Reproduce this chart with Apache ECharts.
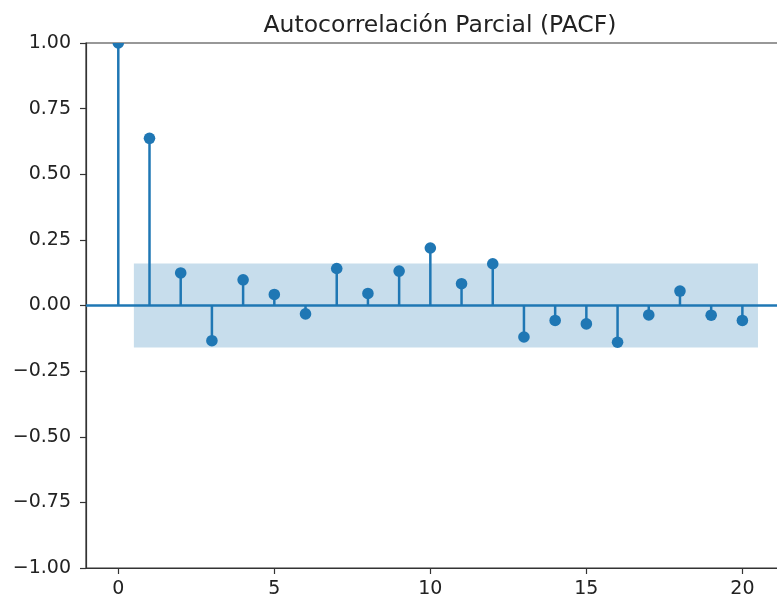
<!DOCTYPE html>
<html><head><meta charset="utf-8">
<script src="https://cdn.jsdelivr.net/npm/echarts@6/dist/echarts.min.js"></script>
<style>html,body{margin:0;padding:0;background:#fff}#c{width:777px;height:601px}</style>
</head><body><div id="c"></div>
<script>
const lags = [0,1,2,3,4,5,6,7,8,9,10,11,12,13,14,15,16,17,18,19,20];
const pacfValues = [1.0,0.637,0.124,-0.134,0.098,0.042,-0.032,0.141,0.046,0.131,0.219,0.083,0.159,-0.120,-0.057,-0.070,-0.140,-0.036,0.055,-0.037,-0.057];
const confBand = [0.5, 20.5, 0.16]; // from lag, to lag, half-width
const xTicks = [0,5,10,15,20];
const titleText = 'Autocorrelación Parcial (PACF)';

const C0 = '#1f77b4';
const FONT = 'DejaVu Sans';
const chart = echarts.init(document.getElementById('c'), null, {renderer:'canvas'});
const fmtY = v => (v < 0 ? '\u2212' : '') + Math.abs(v).toFixed(2);

chart.setOption({
  animation:false,
  backgroundColor:'#fff',
  title:{text:titleText,left:435,top:9,textAlign:'center',
    textStyle:{fontFamily:FONT,fontSize:23.5,fontWeight:'normal',color:'#222'}},
  grid:{left:86,top:43,width:701,height:525,outerBoundsMode:'none',containLabel:false,
    show:true,borderColor:'#333',borderWidth:1.2,backgroundColor:'transparent'},
  xAxis:{type:'value',min:-1.035,max:21.43,
    axisLine:{show:true,onZero:false,lineStyle:{color:'#333',width:1.2}},
    axisTick:{show:true,length:6,customValues:xTicks,lineStyle:{color:'#333',width:1.2}},
    axisLabel:{customValues:xTicks,margin:12,fontFamily:FONT,fontSize:19,color:'#222'},
    splitLine:{show:false}},
  yAxis:{type:'value',min:-1,max:1,interval:0.25,
    axisLine:{show:true,onZero:false,lineStyle:{color:'#333',width:1.2}},
    axisTick:{show:true,length:6,lineStyle:{color:'#333',width:1.2}},
    axisLabel:{margin:15,fontFamily:FONT,fontSize:19,color:'#222',formatter:fmtY},
    splitLine:{show:false}},
  series:[
    {type:'custom',z:1,clip:true,data:[confBand],
     renderItem:(params,api)=>{
       const p1 = api.coord([api.value(0), api.value(2)]);
       const p2 = api.coord([api.value(1), -api.value(2)]);
       return {type:'rect',shape:{x:p1[0],y:p1[1],width:p2[0]-p1[0],height:p2[1]-p1[1]},
         style:{fill:'rgba(31,119,180,0.25)'}};
     }},
    {type:'custom',z:2,clip:true,data:[0],
     renderItem:(params,api)=>{
       const cs = params.coordSys;
       const y = api.coord([0,0])[1];
       return {type:'line',shape:{x1:cs.x,y1:y,x2:cs.x+cs.width,y2:y},style:{stroke:C0,lineWidth:2.5}};
     }},
    {type:'custom',z:3,clip:true,
     data:lags.map((l,i)=>[l,pacfValues[i]]),
     renderItem:(params,api)=>{
       const b = api.coord([api.value(0),0]);
       const t = api.coord([api.value(0),api.value(1)]);
       return {type:'group',children:[
         {type:'line',shape:{x1:b[0],y1:b[1],x2:t[0],y2:t[1]},style:{stroke:C0,lineWidth:2.5}},
         {type:'circle',shape:{cx:t[0],cy:t[1],r:5.8},style:{fill:C0}}
       ]};
     }}
  ]
});
</script></body></html>
